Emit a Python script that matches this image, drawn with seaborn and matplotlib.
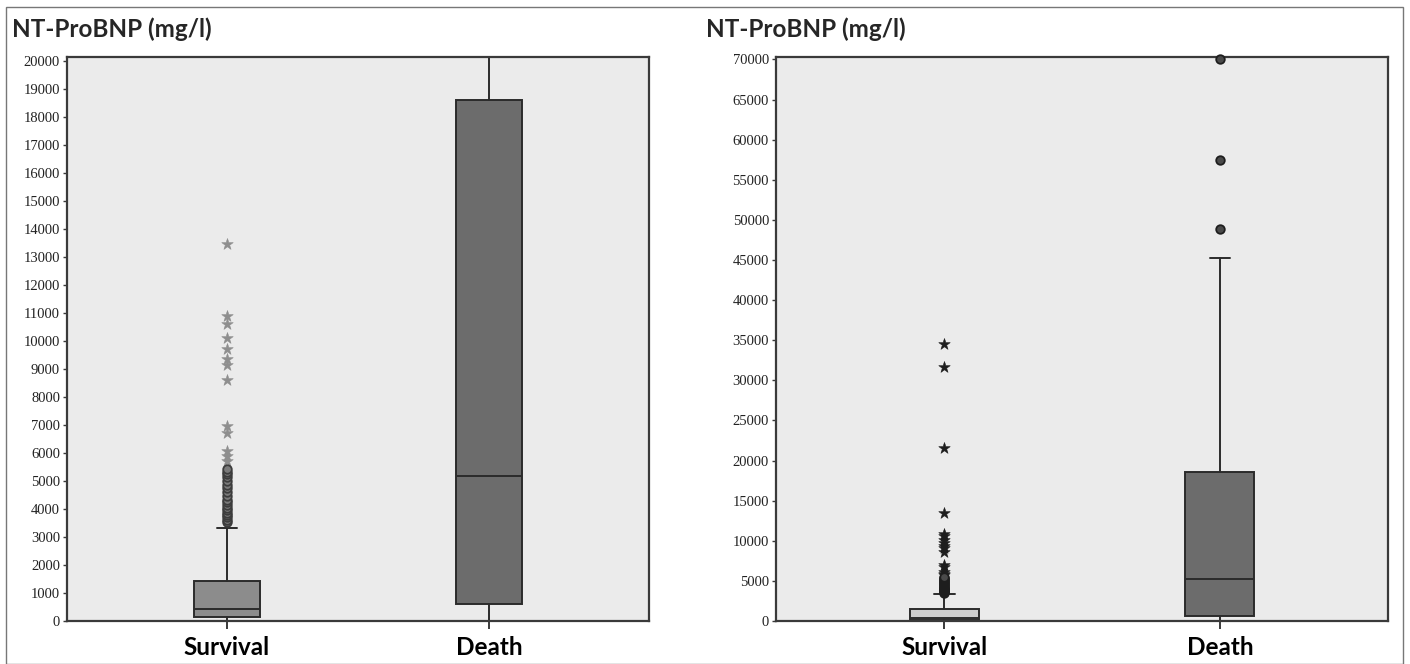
import matplotlib
matplotlib.use("Agg")
import matplotlib.pyplot as plt
import pandas as pd
import seaborn as sns
from matplotlib.patches import Rectangle

groups = ["Survival", "Death"]
# whisker low, q1, median, q3, whisker high
surv_box = [0, 140, 415, 1445, 3310]
death_box = [0, 620, 5190, 18610, 45200]

surv_circles = [3530, 3600, 3700, 3780, 3850, 3950, 4050, 4150, 4250, 4330,
                4450, 4600, 4750, 4850, 5000, 5150, 5250, 5330, 5430]
surv_stars = [5720, 5900, 6070, 6720, 6960, 8600, 9130, 9340, 9700, 10090,
              10590, 10870, 13470, 21560, 31650, 34540]
death_circles = [48900, 57500, 70000]

left_ticks = list(range(0, 20001, 1000))
right_ticks = list(range(0, 70001, 5000))
title = "NT-ProBNP (mg/l)"

sns.set_theme(style="white")
plt.rcParams['font.family'] = ['Liberation Serif', 'DejaVu Serif']
SANS = ["Lato", "DejaVu Sans"]

fliers = pd.DataFrame({
    "x": [0] * len(surv_circles) + [0] * len(surv_stars) + [1] * len(death_circles),
    "value": surv_circles + surv_stars + death_circles,
    "kind": ["circle"] * len(surv_circles) + ["star"] * len(surv_stars) + ["circle"] * len(death_circles),
})


def make_stats(vals, label):
    lo, q1, med, q3, hi = vals
    return dict(label=label, whislo=lo, q1=q1, med=med, q3=q3, whishi=hi, fliers=[])


def draw_panel(ax, ymax, ticks, fills, star_color, circ_face, circ_edge, clip):
    line = dict(color="#2b2b2b", linewidth=1.4)
    stats = [make_stats(surv_box, groups[0]), make_stats(death_box, groups[1])]
    bp = ax.bxp(stats, positions=[0, 1], widths=0.25, patch_artist=True,
                showfliers=False, capwidths=0.075,
                boxprops=dict(edgecolor="#2b2b2b", linewidth=1.4),
                medianprops=line, whiskerprops=line, capprops=line)
    for patch, c in zip(bp["boxes"], fills):
        patch.set_facecolor(c)

    stars = fliers[fliers["kind"] == "star"]
    circles = fliers[fliers["kind"] == "circle"]
    sns.scatterplot(data=stars, x="x", y="value", marker="*", s=75,
                    color=star_color, edgecolor=star_color, linewidth=0.4,
                    ax=ax, zorder=4, clip_on=clip, legend=False)
    sns.scatterplot(data=circles, x="x", y="value", marker="o", s=38,
                    color=circ_face, edgecolor=circ_edge, linewidth=1.3,
                    ax=ax, zorder=4, clip_on=clip, legend=False)

    ax.set_xlim(-0.61, 1.61)
    ax.set_ylim(0, ymax)
    ax.set_yticks(ticks)
    ax.set_yticklabels([str(t) for t in ticks], fontsize=10.5, color="#222222")
    ax.set_xticks([0, 1])
    ax.set_xticklabels(groups, fontsize=17.5, fontweight="bold",
                       family=SANS, color="black")
    ax.set_xlabel("")
    ax.set_ylabel("")
    ax.set_facecolor("#ebebeb")
    for sp in ax.spines.values():
        sp.set_visible(True)
        sp.set_color("#3a3a3a")
        sp.set_linewidth(1.6)
    ax.tick_params(axis="y", direction="out", length=3, width=1, color="#3a3a3a", pad=2, left=True)
    ax.tick_params(axis="x", direction="out", length=6, width=1.4, color="#3a3a3a", pad=5, bottom=True)


fig = plt.figure(figsize=(14.1, 6.64), dpi=100)
ax1 = fig.add_axes([67 / 1410, 43 / 664, 582 / 1410, 564 / 664])
ax2 = fig.add_axes([776 / 1410, 43 / 664, 612 / 1410, 564 / 664])

draw_panel(ax1, 20130, left_ticks, ["#8c8c8c", "#6c6c6c"],
           "#8e8e8e", "#7a7a7a", "#3c3c3c", True)
draw_panel(ax2, 70300, right_ticks, ["#cdcdcd", "#6c6c6c"],
           "#1e1e1e", "#4a4a4a", "#1e1e1e", False)

for xpix in (12, 706):
    fig.text(xpix / 1410, 1 - 29 / 664, title, fontsize=17.5, fontweight="bold",
             family=SANS, va="center", ha="left")

fig.patches.append(Rectangle((6 / 1410, 0.5 / 664), 1397 / 1410, 657 / 664,
                             transform=fig.transFigure, fill=False,
                             edgecolor="#777777", linewidth=1))

fig.savefig("out.png", dpi=100)
